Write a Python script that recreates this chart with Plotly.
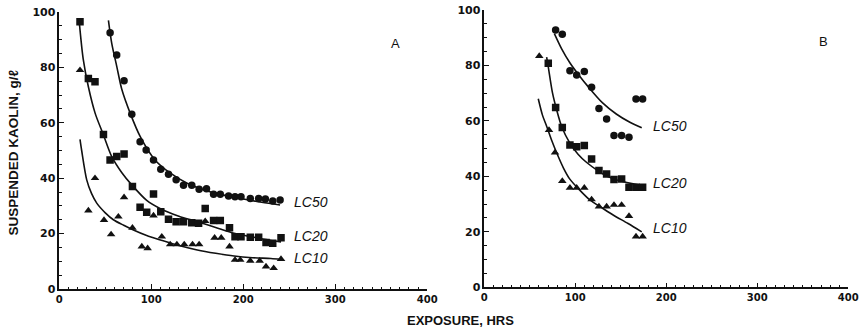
import plotly.graph_objects as go

# ---------------- Panel A data ----------------
a_lc50_x = [55.2, 62.4, 70.4, 78.8, 87.8, 94.4, 102.4, 110.3, 118.7, 127, 135, 144, 152, 160, 167.7, 175, 184, 191, 197.5, 207.6, 216.7, 224, 232, 240]
a_lc50_y = [92.5, 84.5, 75.2, 63.1, 53.2, 50.2, 46.6, 43.2, 41.4, 39.4, 37.5, 37.5, 36, 36.2, 34.2, 34.2, 33.6, 33.3, 33.3, 32.7, 32.7, 32.5, 31.8, 32.1]

a_lc20_x = [22.5, 31.6, 38.8, 48, 55.2, 62.4, 70.4, 79.5, 87.8, 95, 102.4, 110.3, 118.7, 127, 135, 144, 151.4, 158.6, 167.7, 175, 185, 191, 197.5, 207.6, 216.7, 224.7, 232, 241]
a_lc20_y = [96.5, 76, 74.8, 55.8, 46.6, 47.8, 48.7, 37, 29.5, 27.7, 34.3, 27.9, 25.2, 24.3, 24.3, 23.9, 23.7, 29.1, 24.7, 24.7, 22.1, 18.9, 18.9, 18.7, 18.7, 16.8, 16.5, 18.5]

a_lc10_x = [22.5, 31.6, 38.8, 48.6, 56.3, 64.2, 70.4, 79.5, 89.7, 96, 102.4, 111.4, 120.5, 127.8, 135.8, 144.8, 152, 158.6, 168.8, 176, 185, 191, 196.7, 207.6, 217.8, 224.7, 233, 241]
a_lc10_y = [79, 28.3, 40, 24.9, 19.7, 26.1, 33.1, 22.1, 15.3, 14.7, 26.5, 18.9, 16.1, 16.1, 16.1, 16.1, 16.1, 24.5, 18.5, 18.5, 15.3, 10.5, 10.5, 10.2, 10.2, 8.1, 7.5, 10.8]

a_fit50_x = [53.4, 57, 62.5, 68, 77, 88, 104, 120, 140, 160, 180, 200, 220, 240]
a_fit50_y = [97, 88.7, 80.3, 72, 63.5, 55, 46.6, 42, 38, 35.5, 33.8, 32.5, 31.3, 30.3]

a_fit20_x = [21.8, 26, 31.6, 39, 48, 57, 68, 79, 95, 110, 130, 150, 170, 190, 210, 230, 241]
a_fit20_y = [96, 83, 73, 63.4, 55.6, 47.8, 42, 37.5, 32, 29, 26.3, 24.3, 22.2, 20.1, 18.8, 17.5, 17]

a_fit10_x = [22.5, 24.3, 29.8, 35, 40.7, 50, 58.8, 70, 80.6, 95, 110, 130, 150, 170, 190, 210, 230, 241]
a_fit10_y = [54, 50, 39.4, 34.5, 31, 27.5, 25, 23, 21.3, 19.3, 17.7, 15.7, 14.1, 12.9, 11.9, 11.3, 11, 10.7]

# ---------------- Panel B data ----------------
b_lc50_x = [78.4, 85.7, 94.1, 101.5, 109.9, 117.9, 126, 134.4, 142.5, 150.9, 159, 166.7, 174]
b_lc50_y = [92.8, 91.3, 78.1, 76.6, 77.8, 72.1, 64.5, 60.7, 54.7, 54.7, 54.1, 67.9, 67.9]

b_lc20_x = [70.3, 78.4, 85.7, 94.1, 101.5, 109.9, 117.9, 126, 134.4, 142.5, 150.9, 159, 166.7, 174]
b_lc20_y = [80.8, 64.8, 57.6, 51.3, 50.7, 51.1, 46.3, 42.1, 40.9, 38.9, 39.1, 36.1, 36.1, 36.1]

b_lc10_x = [60.4, 71.1, 77.7, 85.7, 94.1, 101.5, 109.9, 117.9, 126, 134.4, 142.5, 150.9, 159, 166.7, 174]
b_lc10_y = [83.4, 56.7, 48.6, 38.3, 35.9, 35.9, 35.9, 31.7, 29.1, 29.1, 29.7, 29.7, 25.7, 18.3, 18.3]

b_fit50_x = [77, 85, 94, 104, 115, 130, 145, 160, 173]
b_fit50_y = [91.5, 86, 81, 76.5, 72, 66.5, 62.5, 59.5, 57.5]

b_fit20_x = [68.5, 70.3, 75, 79.5, 85, 94, 103, 112.5, 125, 135, 150, 165, 173]
b_fit20_y = [83, 79.5, 70, 64, 58, 52, 48, 45, 42, 40, 38.3, 37.2, 36.8]

b_fit10_x = [59.3, 64, 68.6, 74, 79.5, 87, 94, 105, 116, 130, 142, 158, 173]
b_fit10_y = [68, 62, 58, 53, 48.5, 43, 39, 35, 31.5, 28.5, 26, 23, 20]

curve_labels = ["LC50", "LC20", "LC10"]
a_label_x = [253, 253, 253]
a_label_y = [31.4, 19.1, 11.2]
b_label_x = [183, 183, 183]
b_label_y = [58.2, 37.5, 21.3]

x_ticks = [0, 100, 200, 300, 400]
y_ticks = [0, 20, 40, 60, 80, 100]

W, H = 864, 331
BLACK = "#111111"

fig = go.Figure()

def add_markers(x, y, symbol, xa, ya):
    fig.add_trace(go.Scatter(x=x, y=y, mode="markers", xaxis=xa, yaxis=ya,
                             marker=dict(symbol=symbol, size=7.5, color=BLACK, line=dict(width=0)),
                             showlegend=False, hoverinfo="skip"))

def add_line(x, y, xa, ya):
    fig.add_trace(go.Scatter(x=x, y=y, mode="lines", xaxis=xa, yaxis=ya,
                             line=dict(color=BLACK, width=1.6, shape="spline", smoothing=0.8),
                             showlegend=False, hoverinfo="skip"))

add_line(a_fit50_x, a_fit50_y, "x", "y")
add_line(a_fit20_x, a_fit20_y, "x", "y")
add_line(a_fit10_x, a_fit10_y, "x", "y")
add_markers(a_lc50_x, a_lc50_y, "circle", "x", "y")
add_markers(a_lc20_x, a_lc20_y, "square", "x", "y")
add_markers(a_lc10_x, a_lc10_y, "triangle-up", "x", "y")

add_line(b_fit50_x, b_fit50_y, "x2", "y2")
add_line(b_fit20_x, b_fit20_y, "x2", "y2")
add_line(b_fit10_x, b_fit10_y, "x2", "y2")
add_markers(b_lc50_x, b_lc50_y, "circle", "x2", "y2")
add_markers(b_lc20_x, b_lc20_y, "square", "x2", "y2")
add_markers(b_lc10_x, b_lc10_y, "triangle-up", "x2", "y2")

x_tick_font = dict(family="DejaVu Sans, sans-serif", size=10, color=BLACK)
y_tick_font = dict(family="DejaVu Sans, sans-serif", size=11, color=BLACK)

def xaxis_cfg(domain, anchor):
    return dict(domain=domain, anchor=anchor, range=[0, 400], showgrid=False, zeroline=False,
                automargin=False,
                showline=True, linecolor=BLACK, linewidth=1.5,
                ticks="inside", ticklen=5, tickwidth=1.3, tickcolor=BLACK,
                tickvals=x_ticks, ticktext=[f"<b>{v}</b>" for v in x_ticks],
                tickfont=x_tick_font,
                minor=dict(dtick=10, ticks="inside", ticklen=2.5, tickwidth=1, tickcolor=BLACK))

def yaxis_cfg(domain, anchor):
    return dict(domain=domain, anchor=anchor, range=[0, 100], showgrid=False, zeroline=False,
                automargin=False,
                showline=True, linecolor=BLACK, linewidth=1.5,
                ticks="inside", ticklen=5, tickwidth=1.3, tickcolor=BLACK,
                tickvals=y_ticks, ticktext=[f"<b>{v}</b>" for v in y_ticks],
                tickfont=y_tick_font,
                minor=dict(dtick=5, ticks="inside", ticklen=3, tickwidth=1, tickcolor=BLACK))

fig.update_layout(
    width=W, height=H,
    margin=dict(l=0, r=0, t=0, b=0, pad=0, autoexpand=False),
    paper_bgcolor="white", plot_bgcolor="white",
    xaxis=xaxis_cfg([59.3 / W, 427.3 / W], "y"),
    yaxis=yaxis_cfg([1 - 289 / H, 1 - 12 / H], "x"),
    xaxis2=xaxis_cfg([484.3 / W, 848.3 / W], "y2"),
    yaxis2=yaxis_cfg([1 - 287.3 / H, 1 - 10 / H], "x2"),
)

label_font = dict(family="Liberation Sans, Arial, sans-serif", size=14, color=BLACK)
for t, xv, yv in zip(curve_labels, a_label_x, a_label_y):
    fig.add_annotation(x=xv, y=yv, xref="x", yref="y", text=f"<i>{t}</i>", showarrow=False,
                       xanchor="left", yanchor="middle", font=label_font)
for t, xv, yv in zip(curve_labels, b_label_x, b_label_y):
    fig.add_annotation(x=xv, y=yv, xref="x2", yref="y2", text=f"<i>{t}</i>", showarrow=False,
                       xanchor="left", yanchor="middle", font=label_font)

fig.add_annotation(x=365, y=88.8, xref="x", yref="y", text="A", showarrow=False,
                   font=dict(family="Liberation Sans, Arial, sans-serif", size=13, color=BLACK))
fig.add_annotation(x=373, y=88.5, xref="x2", yref="y2", text="B", showarrow=False,
                   font=dict(family="Liberation Sans, Arial, sans-serif", size=13, color=BLACK))

fig.add_annotation(x=12.5 / W, y=1 - 153 / H, xref="paper", yref="paper",
                   text="<b>SUSPENDED KAOLIN, g/ℓ</b>", textangle=-90, showarrow=False,
                   xanchor="center", yanchor="middle",
                   font=dict(family="Liberation Sans, Arial, sans-serif", size=13.5, color=BLACK))
fig.add_annotation(x=460 / W, y=1 - 320 / H, xref="paper", yref="paper",
                   text="<b>EXPOSURE, HRS</b>", showarrow=False,
                   xanchor="center", yanchor="middle",
                   font=dict(family="Liberation Sans, Arial, sans-serif", size=13, color=BLACK))

fig.write_html("out.html",
               config={"displayModeBar": False},
               post_script="document.body.style.margin='0';document.body.style.overflow='hidden';")
